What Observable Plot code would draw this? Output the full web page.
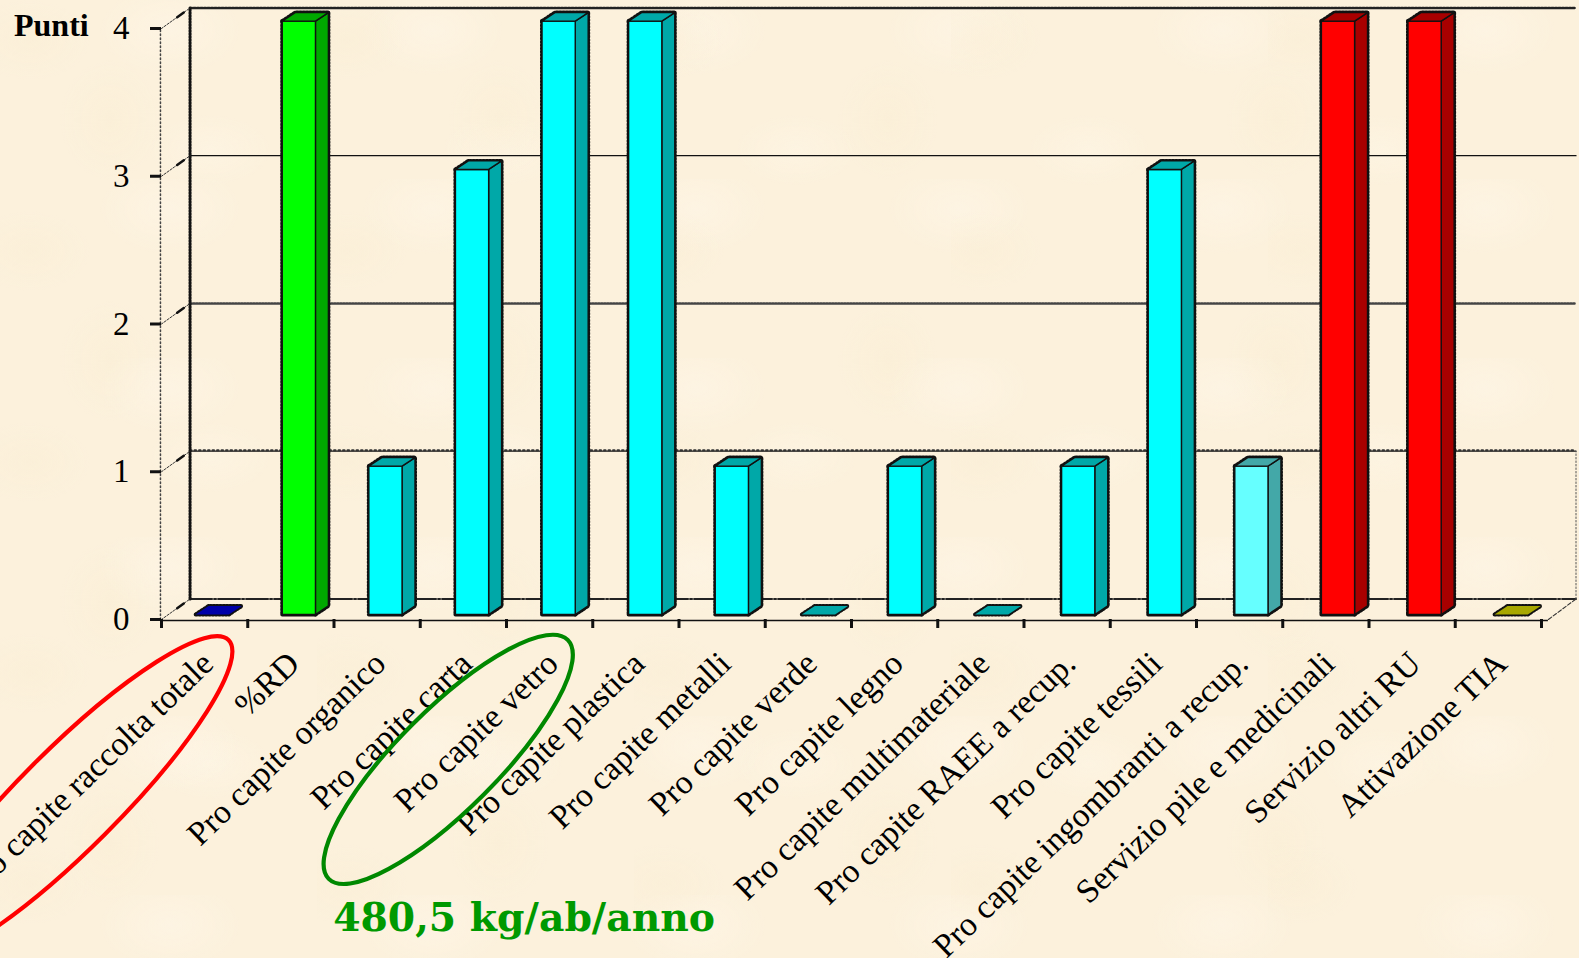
<!DOCTYPE html>
<html>
<head>
<meta charset="utf-8">
<script src="https://cdn.jsdelivr.net/npm/d3@7"></script>
<script src="https://cdn.jsdelivr.net/npm/@observablehq/plot@0.6"></script>
<style>
html,body{margin:0;padding:0;overflow:hidden;background-color:#fcf1dc;
background-image:
 radial-gradient(ellipse 60px 40px at 30px 40px,#f9edd366,transparent),
 radial-gradient(ellipse 70px 45px at 170px 30px,#fff7ea77,transparent),
 radial-gradient(ellipse 50px 60px at 110px 120px,#f9edd266,transparent),
 radial-gradient(ellipse 60px 35px at 210px 150px,#fef6e688,transparent);
background-size:317px 211px,263px 179px,389px 241px,293px 307px}
svg{display:block}
</style>
</head>
<body>
<div id="chart"></div>
<script>
const categories = ["Pro capite raccolta totale","%RD","Pro capite organico","Pro capite carta","Pro capite vetro","Pro capite plastica","Pro capite metalli","Pro capite verde","Pro capite legno","Pro capite multimateriale","Pro capite RAEE a recup.","Pro capite tessili","Pro capite ingombranti a recup.","Servizio pile e medicinali","Servizio altri RU","Attivazione TIA"];
const values = [0,4,1,3,4,4,1,0,1,0,1,3,1,4,4,0];
const colors = ["#0000ff","#00ff00","#00ffff","#00ffff","#00ffff","#00ffff","#00ffff","#00ffff","#00ffff","#00ffff","#00ffff","#00ffff","#66ffff","#ff0000","#ff0000","#ffff00"];
const yTicks = [0,1,2,3,4];
const annotations = [{text:"480,5 kg/ab/anno", x:1.99, y:-2.02}];

// 3D projection constants, in data units
const wallDX = 0.331, wallDY = 0.139, wallEnd = 16.4;
const barDX = 0.15, barDY = 0.058, barW = 0.385, baseY = 0.034;
const serif = "'Liberation Serif', serif";

const barX = i => i + 0.396 + 0.004 * i;
const dark = c => { const r = d3.rgb(c); return d3.rgb(r.r*0.66, r.g*0.66, r.b*0.66).formatHex(); };

function faces() {
  const out = [];
  categories.forEach((c, i) => {
    const x0 = barX(i), x1 = x0 + barW, y0 = baseY, y1 = values[i] * 1.004 + baseY, col = colors[i], d = dark(col);
    const flat = values[i] === 0;
    const add = (k, f, pts) => pts.forEach(([x,y]) => out.push({id:`${i}-${k}`, x, y, fill:f, flat}));
    if (!flat) {
      add("side", d, [[x1,y0],[x1+barDX,y0+barDY],[x1+barDX,y1+barDY],[x1,y1],[x1,y0]]);
      add("front", col, [[x0,y0],[x1,y0],[x1,y1],[x0,y1],[x0,y0]]);
    }
    add("top", d, [[x0,y1],[x1,y1],[x1+barDX,y1+barDY],[x0+barDX,y1+barDY],[x0,y1]]);
  });
  return out;
}
const faceData = faces();

const wallLine = (v, opts) => Plot.line([[wallDX, v+wallDY],[wallEnd, v+wallDY]], {stroke:"#111", ...opts});

function ellipse(cx, cy, rx, ry, color) {
  return (index, scales) => d3.create("svg:ellipse")
    .attr("transform", `translate(${scales.x(cx)},${scales.y(cy)}) rotate(-45)`)
    .attr("rx", rx).attr("ry", ry).attr("fill","none").attr("stroke",color).attr("stroke-width",4.2).node();
}

const chart = Plot.plot({
  width:1579, height:958,
  marginLeft:161, marginRight:38, marginTop:28, marginBottom:339,
  style:{background:"transparent", fontFamily:serif, color:"#000", overflow:"hidden"},
  x:{domain:[0,16], axis:null},
  y:{domain:[0,4], axis:null},
  marks:[
    // back wall
    wallLine(4,{strokeWidth:2.5,strokeDasharray:"2 1.5",stroke:"#222"}),
    wallLine(3,{strokeWidth:1.3}),
    wallLine(2,{strokeWidth:2.5,strokeDasharray:"1.5 1.5",stroke:"#444"}),
    wallLine(1,{strokeWidth:1.2}),
    wallLine(1,{strokeWidth:2,strokeDasharray:"1.5 3",dy:-1,stroke:"#333"}),
    wallLine(0,{strokeWidth:2,strokeDasharray:"22 2 2 2",stroke:"#222"}),
    Plot.line([[wallDX,wallDY],[wallDX,4+wallDY]],{stroke:"#111",strokeWidth:3,strokeDasharray:"2 1"}),
    Plot.line([[wallEnd,wallDY],[wallEnd,1+wallDY]],{stroke:"#555",strokeWidth:1,strokeDasharray:"1.5 2"}),
    Plot.line([[-0.012,0],[-0.012,4]],{stroke:"#444",strokeWidth:1.5,strokeDasharray:"1.5 2.5"}),
    // side diagonals
    ...yTicks.map(v => Plot.line([[0,v],[wallDX,v+wallDY]],{stroke:"#333",strokeWidth:1,strokeDasharray:"2 1.5"})),
    ...yTicks.map(v => Plot.line([[wallDX*0.55,v+wallDY*0.55],[wallDX*0.78,v+wallDY*0.78]],{stroke:"#111",strokeWidth:2.5})),
    Plot.line([[16.08,0],[wallEnd,wallDY]],{stroke:"#333",strokeWidth:1.1,strokeDasharray:"4 2"}),
    // bars: dotted halo then faces
    Plot.line(faceData,{x:"x",y:"y",z:"id",stroke:"#111",strokeWidth:4,strokeDasharray:"1.5 1.8"}),
    Plot.line(faceData.filter(d=>d.flat),{x:"x",y:"y",z:"id",fill:"fill",stroke:"none"}),
    Plot.line(faceData.filter(d=>!d.flat),{x:"x",y:"y",z:"id",fill:"fill",stroke:"#111",strokeWidth:1.4,strokeLinejoin:"round"}),
    // axes
    Plot.ruleY([0],{x1:0,x2:16.08,stroke:"#111",strokeWidth:1.5,dy:1}),
    Plot.axisX({anchor:"bottom",ticks:d3.range(0,17),tickSize:9,tickFormat:()=>"",strokeWidth:3,stroke:"#111",label:null}),
    Plot.axisY({anchor:"left",ticks:yTicks,tickSize:11,tickPadding:21,tickFormat:d=>d,strokeWidth:3,stroke:"#111",fontSize:33,fill:"#000",fontFamily:serif,label:null}),
    // labels
    Plot.text(["Punti"],{x:-1.71,y:4.02,text:d=>d,textAnchor:"start",fontSize:32,fontWeight:"bold",fontFamily:serif,fill:"#000"}),
    Plot.text(categories,{x:(d,i)=>i+0.535,y:-0.262,text:d=>d,textAnchor:"end",rotate:-44,fontSize:33.6,fontFamily:serif,fill:"#000"}),
    Plot.text(annotations,{x:"x",y:"y",text:"text",textAnchor:"start",fontSize:39.3,fontWeight:"bold",fontFamily:"'DejaVu Serif', serif",fill:"#009900"}),
    ellipse(-1.062,-1.219,225,50,"#ff0000"),
    ellipse(3.33,-0.95,169,50,"#008800")
  ]
});
document.getElementById("chart").appendChild(chart);
</script>
</body>
</html>
